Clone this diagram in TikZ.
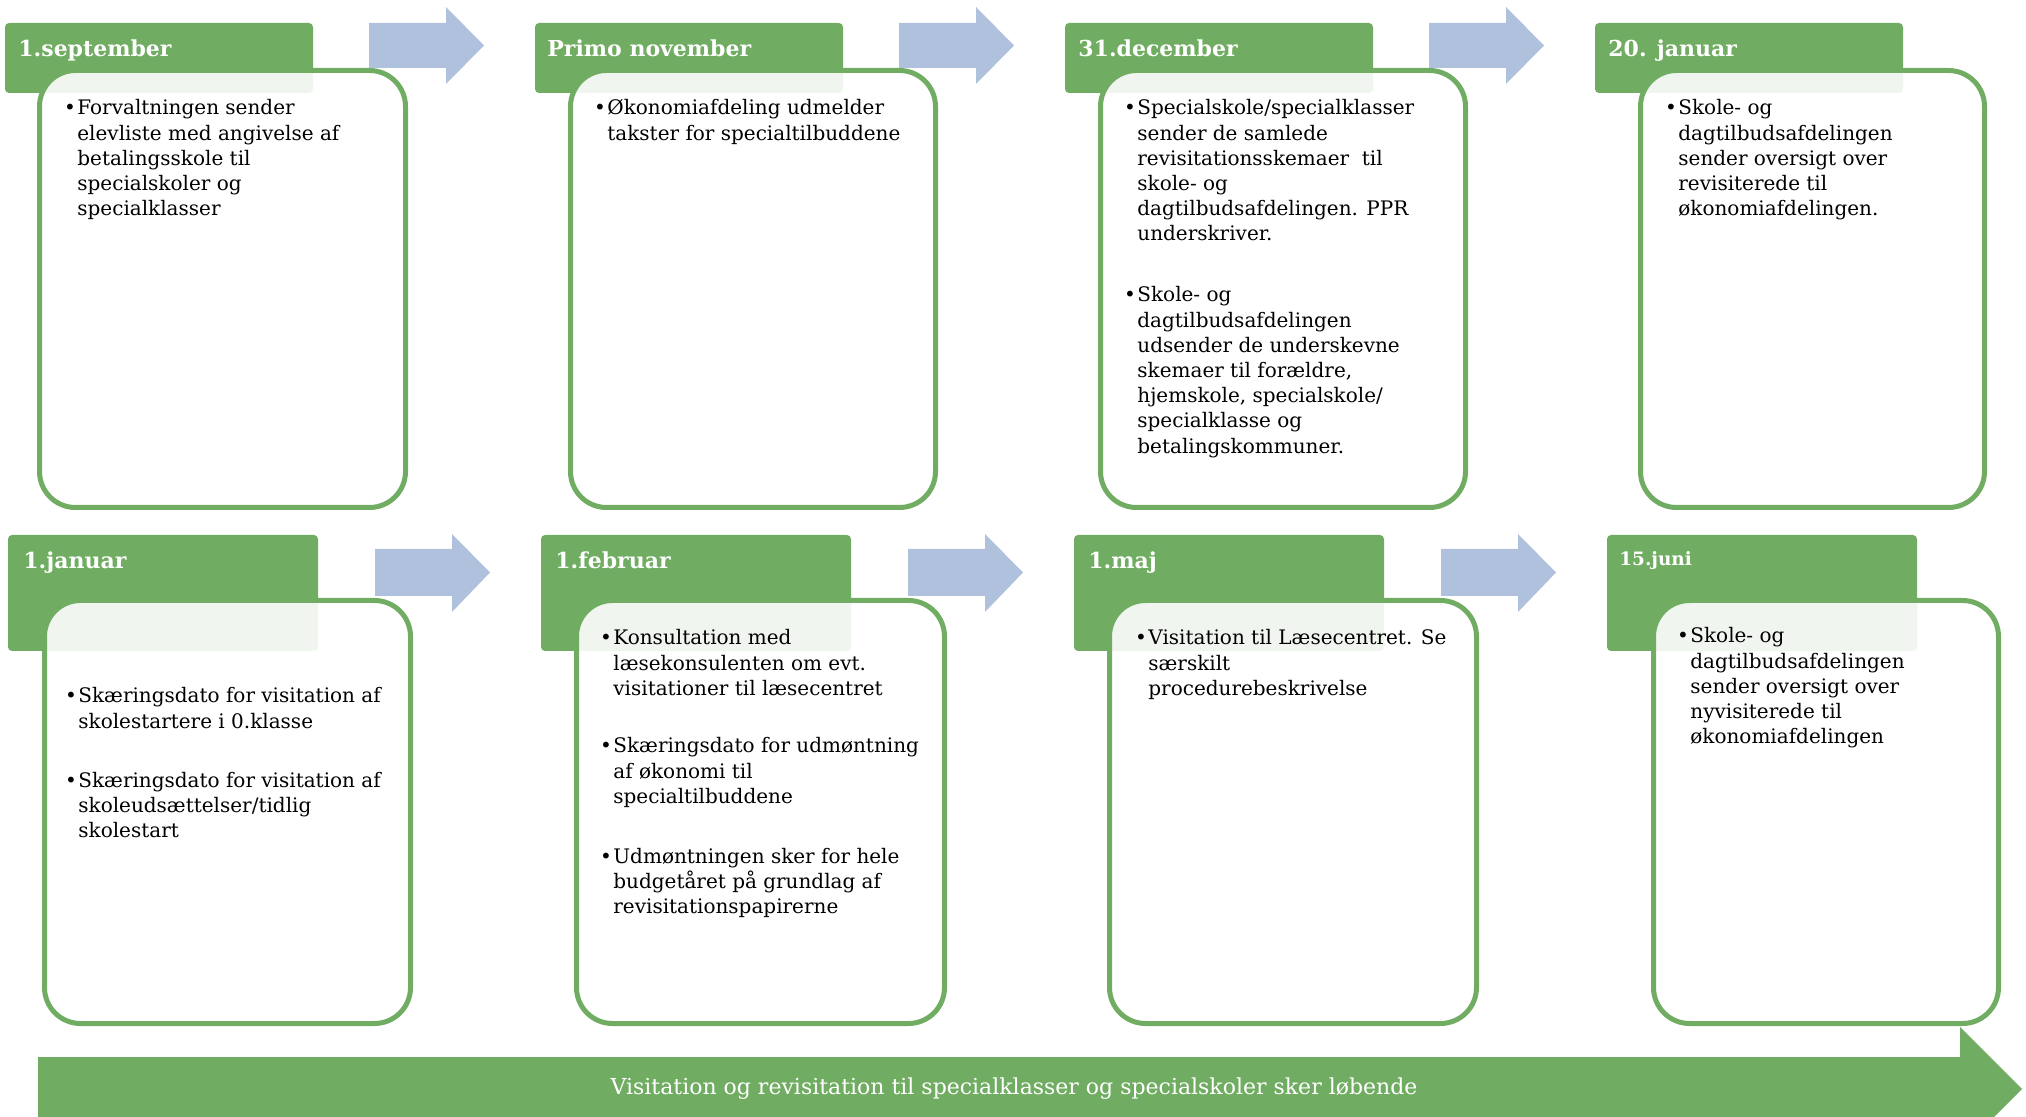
\documentclass[tikz,border=0pt]{standalone}
\usepackage{fontspec}
\setmainfont{DejaVu Serif}
\definecolor{grn}{RGB}{112,173,98}
\definecolor{blu}{RGB}{176,193,221}
\newcommand{\bl}[1]{\makebox[5pt][r]{\textbullet\kern0.8pt}\begin{tabular}[t]{@{}l@{}}#1\end{tabular}}
\tikzset{
  hdr/.style={fill=grn, rounded corners=2pt},
  card/.style={draw=grn, line width=2.5pt, fill=white, fill opacity=0.9, rounded corners=18pt},
  barrow/.style={fill=blu},
  htxt/.style={anchor=base west, text=white, inner sep=0, font=\bfseries\fontsize{11}{13}\selectfont},
  htxtsmall/.style={htxt, font=\bfseries\fontsize{9.2}{11}\selectfont},
  btxt/.style={anchor=base west, inner sep=0, font=\fontsize{10}{12.6}\selectfont},
  bantxt/.style={text=white, inner sep=0, font=\fontsize{11}{13}\selectfont},
}
\begin{document}
\begin{tikzpicture}[x=0.5pt,y=-0.5pt]
\useasboundingbox (0,0) rectangle (2026,1117);
% ---------- blue arrows row 1 ----------
\foreach \dx in {0,530,1060}{
  \fill[barrow] (369+\dx,23) -- (446+\dx,23) -- (446+\dx,7) -- (484+\dx,45.5) -- (446+\dx,84) -- (446+\dx,68) -- (369+\dx,68) -- cycle;
}
% ---------- blue arrows row 2 ----------
\foreach \dx in {0,533,1066}{
  \fill[barrow] (375+\dx,549) -- (452+\dx,549) -- (452+\dx,534) -- (490+\dx,572.5) -- (452+\dx,612) -- (452+\dx,596) -- (375+\dx,596) -- cycle;
}
% ---------- headers row 1 ----------
\fill[hdr] (5,23) rectangle (313,93);
\fill[hdr] (535,23) rectangle (843,93);
\fill[hdr] (1065,23) rectangle (1373,93);
\fill[hdr] (1595,23) rectangle (1903,93);
% ---------- headers row 2 ----------
\fill[hdr] (8,535) rectangle (318,651);
\fill[hdr] (541,535) rectangle (851,651);
\fill[hdr] (1074,535) rectangle (1384,651);
\fill[hdr] (1607,535) rectangle (1917,651);
% ---------- cards row 1 ----------
\path[card] (39.5,70.5) rectangle (405.5,507.5);
\path[card] (570.5,70.5) rectangle (935.5,507.5);
\path[card] (1100.5,70.5) rectangle (1465.5,507.5);
\path[card] (1640.5,70.5) rectangle (1984.5,507.5);
% ---------- cards row 2 ----------
\path[card] (44.5,600.5) rectangle (410.5,1023.5);
\path[card] (576.5,600.5) rectangle (944.5,1023.5);
\path[card] (1109.5,600.5) rectangle (1476.5,1023.5);
\path[card] (1653.5,600.5) rectangle (1998.5,1023.5);
% ---------- header texts ----------
\node[htxt] (h1) at (18,57) {1.september};
\node[htxt] (h2) at (547,57) {Primo november};
\node[htxt] (h3) at (1078,57) {31.december};
\node[htxt] (h4) at (1608,57) {20. januar};
\node[htxt] (h5) at (23,569) {1.januar};
\node[htxt] (h6) at (555,569) {1.februar};
\node[htxt] (h7) at (1088,569) {1.maj};
\node[htxtsmall] (h8) at (1619,566) {15.juni};
% ---------- body texts row 1 ----------
\node[btxt] (t1) at (67,115) {\bl{Forvaltningen sender\\elevliste med angivelse af\\betalingsskole til\\specialskoler og\\specialklasser}};
\node[btxt] (t2) at (597,115) {\bl{Økonomiafdeling udmelder\\takster for specialtilbuddene}};
\node[btxt] (t3a) at (1127,115) {\bl{Specialskole/specialklasser\\sender de samlede\\revisitationsskemaer\ \ til\\skole- og\\dagtilbudsafdelingen. PPR\\underskriver.}};
\node[btxt] (t3b) at (1127,302) {\bl{Skole- og\\dagtilbudsafdelingen\\udsender de underskevne\\skemaer til forældre,\\hjemskole, specialskole/\\specialklasse og\\betalingskommuner.}};
\node[btxt] (t4) at (1668,115) {\bl{Skole- og\\dagtilbudsafdelingen\\sender oversigt over\\revisiterede til\\økonomiafdelingen.}};
% ---------- body texts row 2 ----------
\node[btxt] (t5a) at (68,703) {\bl{Skæringsdato for visitation af\\skolestartere i 0.klasse}};
\node[btxt] (t5b) at (68,787) {\bl{Skæringsdato for visitation af\\skoleudsættelser/tidlig\\skolestart}};
\node[btxt] (t6a) at (603,645) {\bl{Konsultation med\\læsekonsulenten om evt.\\visitationer til læsecentret}};
\node[btxt] (t6b) at (603,753) {\bl{Skæringsdato for udmøntning\\af økonomi til\\specialtilbuddene}};
\node[btxt] (t6c) at (603,863) {\bl{Udmøntningen sker for hele\\budgetåret på grundlag af\\revisitationspapirerne}};
\node[btxt] (t7) at (1138,645) {\bl{Visitation til Læsecentret. Se\\særskilt\\procedurebeskrivelse}};
\node[btxt] (t8) at (1680,643) {\bl{Skole- og\\dagtilbudsafdelingen\\sender oversigt over\\nyvisiterede til\\økonomiafdelingen}};
% ---------- bottom banner ----------
\fill[grn] (38,1057) -- (1960,1057) -- (1960,1027) -- (2022,1089) -- (1960,1151) -- (1960,1121) -- (38,1121) -- cycle;
\node[bantxt] (ban) at (1014,1089) {Visitation og revisitation til specialklasser og specialskoler sker løbende};
\end{tikzpicture}
\end{document}
